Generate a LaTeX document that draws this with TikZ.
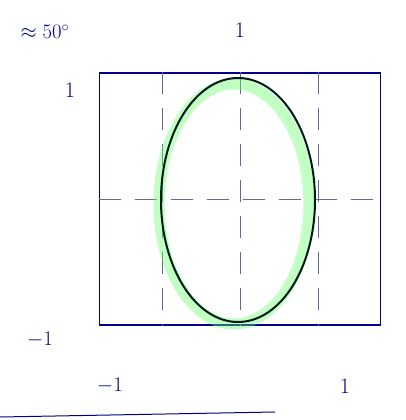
\documentclass[tikz,border=0pt]{standalone}
\usepackage{tikz}
\usetikzlibrary{shapes.geometric,positioning}

\begin{document}
\begin{tikzpicture}[
  x=1pt, y=-1pt,
  ink/.style={draw=blue!55!black, line width=1.8pt},
  gridline/.style={draw=blue!30!black!60, line width=0.6pt, dash pattern=on 22pt off 14pt},
  lbl/.style={text=blue!55!black, font=\fontsize{22}{24}\selectfont, inner sep=1pt},
  curve/.style={ellipse, draw=black!80!teal, line width=2pt, minimum width=154pt, minimum height=244pt},
  glow/.style={ellipse, draw=green!60!white, draw opacity=0.4, line width=11pt, minimum width=150pt, minimum height=240pt},
]
\useasboundingbox (0,0) rectangle (405,420);

% --- frame ---
\node[ink, rectangle, minimum width=281pt, minimum height=252pt, inner sep=0pt] (box) at (240,199) {};

% --- grid ---
\coordinate (gl) at (162,199);
\coordinate (gr) at (318,199);
\draw[gridline] (box.north) -- (box.south);
\draw[gridline] (box.west) -- (box.east);
\draw[gridline] (gl |- box.north) -- (gl |- box.south);
\draw[gridline] (gr |- box.north) -- (gr |- box.south);

% --- ellipse ---
\node[glow] (hl) at (234,204) {};
\node[curve] (ell) at (238,200) {};

% --- labels ---
\node[lbl] (ytop) at (70,90) {1};
\node[lbl] (ybot) at (40,340) {$-1$};
\node[lbl] (xleft) at (110,386) {$-1$};
\node[lbl] (xright) at (345,386) {1};
\node[lbl] (xtop) at (240,30) {1};
\node[lbl] (angle) at (45,32) {$\approx 50^{\circ}$};

% --- base line ---
\coordinate (b1) at (0,417);
\coordinate (b2) at (275,412);
\draw[ink, line width=1pt] (b1) -- (b2);

\end{tikzpicture}
\end{document}
